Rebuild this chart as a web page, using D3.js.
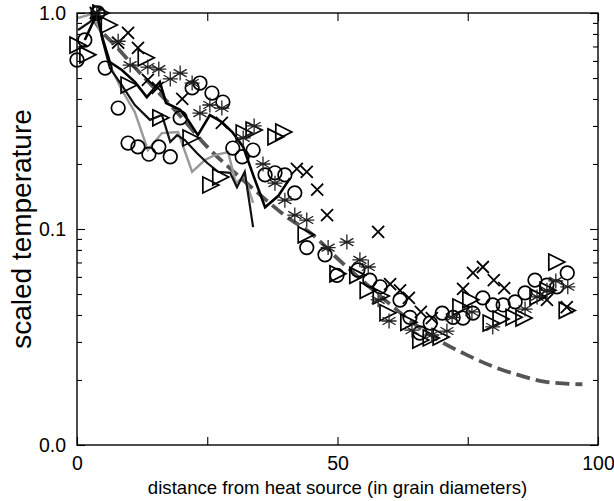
<!DOCTYPE html>
<html><head><meta charset="utf-8">
<script src="https://cdn.jsdelivr.net/npm/d3@7"></script>
<style>body{margin:0;background:#fff}svg{display:block}text{font-family:"Liberation Sans",Arial,sans-serif}</style>
</head><body><svg id="c" width="614" height="501"></svg>
<script>
const xTicks = [0, 25, 50, 75, 100];
const xLabels = ["0", "", "50", "", "100"];
const yMajor = [1, 0.1, 0.01];
const yLabels = ["1.0", "0.1", "0.0"];

const circles = [[0,0.606],[1.5,0.75],[4,1.0],[5.4,0.556],[7.9,0.363],[9.8,0.25],[11.7,0.24],[13.8,0.222],[15.7,0.24],[17.9,0.216],[19.8,0.327],[22.1,0.45],[23.6,0.474],[25.9,0.426],[28,0.387],[29.9,0.237],[31.7,0.216],[33.8,0.232],[36.1,0.178],[38,0.182],[39.9,0.178],[41.8,0.147],[44.1,0.082],[47.6,0.076],[49.9,0.061],[53.9,0.0646],[56.2,0.058],[58.2,0.054],[62,0.0469],[63.9,0.039],[65.8,0.033],[67.8,0.0367],[70.1,0.0408],[72.2,0.039],[74.1,0.0387],[76,0.0408],[77.9,0.048],[79.8,0.0445],[81.8,0.0445],[84.1,0.046],[86,0.0506],[87.9,0.058],[90.2,0.055],[92.1,0.054],[94.1,0.0626]];
const triangles = [[0,0.71],[1.9,0.64],[4.4,1.0],[6,0.88],[9.8,0.464],[13.1,0.62],[15.9,0.327],[21.7,0.264],[25.5,0.16],[27.4,0.174],[31.9,0.278],[33.8,0.287],[38,0.267],[39.5,0.281],[43.8,0.094],[49.9,0.062],[53.7,0.061],[55.7,0.052],[58.2,0.049],[59.5,0.041],[63.5,0.037],[65.8,0.0306],[67.8,0.0313],[69.7,0.0316],[73.5,0.0435],[75.4,0.047],[79.3,0.0367],[81.2,0.0383],[83.7,0.039],[85.6,0.0387],[88.3,0.0485],[90.2,0.052],[91.9,0.0703],[93.9,0.042]];
const crosses = [[3.6,1.0],[7.9,0.73],[9.8,0.81],[11.7,0.69],[13.6,0.49],[15.5,0.45],[20.2,0.40],[27.8,0.31],[42.2,0.19],[44.1,0.184],[46.1,0.152],[48,0.116],[57.8,0.097],[60.1,0.0556],[62,0.052],[63.7,0.048],[66,0.0413],[68.1,0.0387],[74.1,0.0528],[76,0.0626],[77.9,0.0667],[80,0.058],[82,0.0533],[90.2,0.047],[94,0.0435]];
const stars = [[3.8,1.0],[7.9,0.74],[10.2,0.574],[13.6,0.562],[15.7,0.55],[17.9,0.495],[19.8,0.527],[22.1,0.474],[23.6,0.344],[25.5,0.375],[27.8,0.363],[31.9,0.264],[34,0.30],[35.7,0.2],[38,0.163],[39.9,0.136],[41.8,0.116],[44.1,0.11],[48.2,0.082],[51.8,0.087],[54.3,0.072],[55.9,0.0667],[57.8,0.047],[59.9,0.0375],[64.3,0.034],[68.1,0.0323],[71,0.0337],[72,0.039],[75.8,0.0413],[79.8,0.0352],[86,0.0426],[88.3,0.0485],[90.2,0.052],[91.9,0.0575],[94.2,0.054]];
const grayLine = [[0.2,0.948],[2.9,0.99],[4.4,0.834],[6.3,0.574],[8.6,0.44],[11.1,0.348],[13.6,0.232],[16.3,0.278],[19.4,0.281],[22.1,0.184],[24.6,0.209],[26.5,0.22],[29,0.227],[30.5,0.163],[32.1,0.176],[33.8,0.132]];
const blackLine1 = [[1.5,0.75],[3.8,0.99],[5,0.75],[6.3,0.593],[8.6,0.545],[11.1,0.48],[13.4,0.408],[15.9,0.48],[17.1,0.383],[19.8,0.356],[21.3,0.32],[23.2,0.272],[25.5,0.337],[27.8,0.313],[29.8,0.281],[31.9,0.24],[33.8,0.178],[36.1,0.126],[38.6,0.142],[40.9,0.172]];
const blackLine2 = [[0.2,0.834],[2.5,0.91],[4,0.99],[4.8,0.766],[6.3,0.556],[8.6,0.464],[11.1,0.375],[14,0.32],[16.3,0.337],[17.9,0.253],[19.2,0.272],[20.7,0.258],[23,0.225],[25,0.202],[27.1,0.184],[29.4,0.182],[30.7,0.156],[32.2,0.184],[33.8,0.102]];
const fitCurve = [[3,0.95],[4,0.87],[8,0.68],[12,0.53],[16,0.42],[20,0.33],[25,0.24],[30,0.185],[35,0.145],[40,0.115],[45,0.095],[50,0.073],[55,0.057],[60,0.045],[65,0.036],[70,0.030],[75,0.026],[80,0.023],[85,0.021],[90,0.0196],[97,0.0191]];

const L = 77, R = 598, T = 13, B = 445;
const svg = d3.select("#c");
const x = d3.scaleLinear().domain([0, 100]).range([L, R]);
const y = d3.scaleLog().domain([0.01, 1]).range([B, T]);

svg.append("clipPath").attr("id","cp").append("rect").attr("x",L-9).attr("y",T-9).attr("width",R-L+18).attr("height",B-T+18);
const plot = svg.append("g").attr("clip-path","url(#cp)");

const lineL = d3.line().x(d => x(d[0])).y(d => y(d[1]));
const lineC = d3.line().x(d => x(d[0])).y(d => y(d[1])).curve(d3.curveMonotoneX);

plot.append("path").datum(fitCurve).attr("d", lineC).attr("fill","none")
  .attr("stroke","#555").attr("stroke-width",3.8).attr("stroke-dasharray","14,6");
plot.append("path").datum(grayLine).attr("d", lineL).attr("fill","none").attr("stroke","#999").attr("stroke-width",2.4);
plot.append("path").datum(blackLine2).attr("d", lineL).attr("fill","none").attr("stroke","#111").attr("stroke-width",2.2);
plot.append("path").datum(blackLine1).attr("d", lineL).attr("fill","none").attr("stroke","#000").attr("stroke-width",2.6);

plot.selectAll(".ci").data(circles).join("circle").attr("cx",d=>x(d[0])).attr("cy",d=>y(d[1])).attr("r",6.8)
  .attr("fill","none").attr("stroke","#000").attr("stroke-width",1.7);
plot.selectAll(".tr").data(triangles).join("path")
  .attr("transform",d=>`translate(${x(d[0])},${y(d[1])})`)
  .attr("d","M-7,-8L9,0L-7,8Z").attr("fill","none").attr("stroke","#000").attr("stroke-width",1.7);
plot.selectAll(".cr").data(crosses).join("path")
  .attr("transform",d=>`translate(${x(d[0])},${y(d[1])})`)
  .attr("d","M-6,-6L6,6M-6,6L6,-6").attr("fill","none").attr("stroke","#000").attr("stroke-width",1.8);
plot.selectAll(".st").data(stars).join("path")
  .attr("transform",d=>`translate(${x(d[0])},${y(d[1])})`)
  .attr("d","M0,-7.5L0,7.5M-6.5,-3.75L6.5,3.75M-6.5,3.75L6.5,-3.75M-7.5,0L7.5,0").attr("fill","none").attr("stroke","#222").attr("stroke-width",1.3);

svg.append("rect").attr("x",L).attr("y",T).attr("width",R-L).attr("height",B-T).attr("fill","none").attr("stroke","#000").attr("stroke-width",1.4);

const xb = d3.axisBottom(x).tickValues(xTicks).tickSize(-8).tickFormat((d,i)=>xLabels[i]).tickPadding(11);
svg.append("g").attr("transform",`translate(0,${B})`).call(xb);
svg.append("g").attr("transform",`translate(0,${T})`).call(d3.axisTop(x).tickValues(xTicks).tickSize(-8).tickFormat(""));

const minor = [];
[0.01,0.1].forEach(b=>{for(let k=2;k<=9;k++) minor.push(b*k);});
const yl = d3.axisLeft(y).tickValues(yMajor).tickSize(-8).tickFormat((d,i)=>yLabels[i]).tickPadding(11);
svg.append("g").attr("transform",`translate(${L},0)`).call(yl);
svg.append("g").attr("transform",`translate(${L},0)`).call(d3.axisLeft(y).tickValues(minor).tickSize(-5).tickFormat(""));
svg.append("g").attr("transform",`translate(${R},0)`).call(d3.axisRight(y).tickValues(yMajor).tickSize(-8).tickFormat(""));
svg.append("g").attr("transform",`translate(${R},0)`).call(d3.axisRight(y).tickValues(minor).tickSize(-5).tickFormat(""));

svg.selectAll(".domain").remove();
svg.selectAll(".tick line").attr("stroke","#000").attr("stroke-width",1.1);
svg.selectAll(".tick text").attr("font-size",19.5).attr("fill","#000").style("font-family","Liberation Sans, Arial, sans-serif");

svg.append("text").attr("x",(L+R)/2).attr("y",494).attr("text-anchor","middle").attr("font-size",18.6).attr("fill","#000").text("distance from heat source (in grain diameters)");
svg.append("text").attr("transform",`translate(31,${(T+B)/2}) rotate(-90)`).attr("text-anchor","middle").attr("font-size",28).attr("fill","#000").text("scaled temperature");
</script></body></html>
